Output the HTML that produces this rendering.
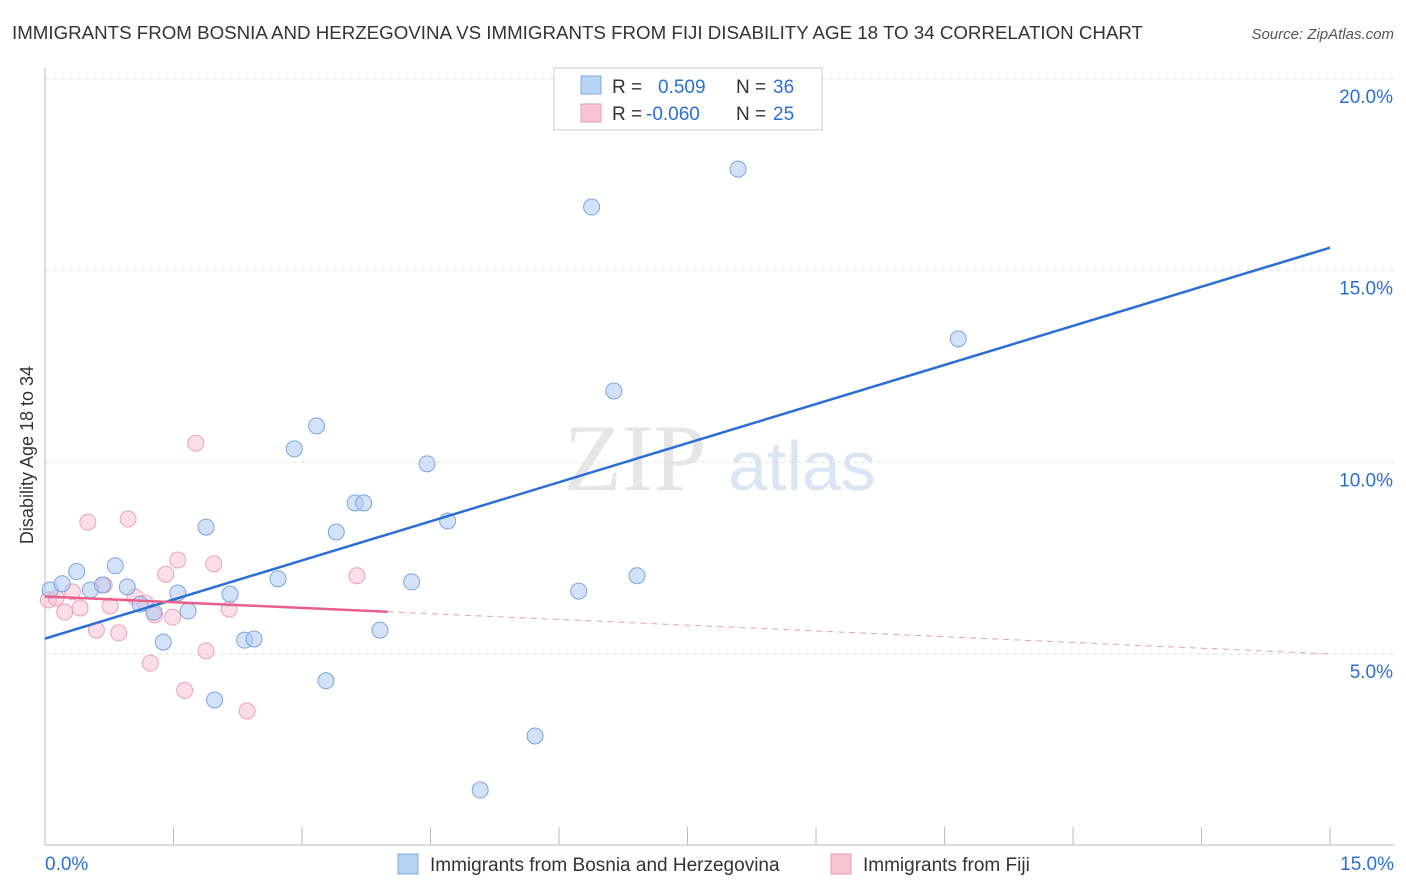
<!DOCTYPE html>
<html><head><meta charset="utf-8"><style>
body{margin:0;background:#fff;font-family:"Liberation Sans",sans-serif;}
svg{display:block}
</style></head><body>
<svg id="chart" width="1406" height="892">
<text x="12" y="39" font-size="18" fill="#333" textLength="1131" lengthAdjust="spacingAndGlyphs">IMMIGRANTS FROM BOSNIA AND HERZEGOVINA VS IMMIGRANTS FROM FIJI DISABILITY AGE 18 TO 34 CORRELATION CHART</text>
<text x="1394" y="39" font-size="15" fill="#555" font-style="italic" text-anchor="end">Source: ZipAtlas.com</text>
<text x="635" y="490" font-size="95" fill="#e6e6e6" font-family="Liberation Serif,serif" text-anchor="middle">ZIP</text>
<text x="802" y="490" font-size="70" fill="#dbe6f5" text-anchor="middle">atlas</text>
<text transform="translate(33,455) rotate(-90)" font-size="18" fill="#333" text-anchor="middle">Disability Age 18 to 34</text>
<g id="grid"></g><g id="marks"></g>
<g>
<rect x="554" y="68" width="268" height="62" fill="#fff" stroke="#ccc"/>
<rect x="581" y="76" width="20" height="18" fill="#b8d2f3" stroke="#7ea9e0"/>
<rect x="581" y="104" width="20" height="18" fill="#f9c5d5" stroke="#ec9ab3"/>
<text x="612" y="93" font-size="19" fill="#333">R = <tspan x="658" fill="#2b6fd6">0.509</tspan><tspan x="736" fill="#333">N = </tspan><tspan x="773" fill="#2b6fd6">36</tspan></text>
<text x="612" y="120" font-size="19" fill="#333">R = <tspan x="646" fill="#2b6fd6">-0.060</tspan><tspan x="736" fill="#333">N = </tspan><tspan x="773" fill="#2b6fd6">25</tspan></text>
</g>
<g>
<rect x="398" y="854" width="20" height="20" fill="#b8d2f3" stroke="#7ea9e0"/>
<text x="430" y="871" font-size="19" fill="#333">Immigrants from Bosnia and Herzegovina</text>
<rect x="831" y="854" width="20" height="20" fill="#f9c5d5" stroke="#ec9ab3"/>
<text x="863" y="871" font-size="19" fill="#333">Immigrants from Fiji</text>
</g>
</svg>
<script>
const xTicks=[0,1.5,3,4.5,6,7.5,9,10.5,12,13.5,15];
const yTicks=[5,10,15,20];
const bosniaX=[0.06,0.2,0.37,0.53,0.67,0.82,0.96,1.11,1.27,1.38,1.55,1.67,1.88,1.98,2.16,2.33,2.44,2.72,2.91,3.17,3.28,3.40,3.62,3.72,3.91,4.28,4.46,4.70,5.08,5.72,6.23,6.38,6.64,6.91,8.09,10.66];
const bosniaY=[6.67,6.83,7.15,6.67,6.80,7.30,6.75,6.30,6.09,5.31,6.59,6.12,8.31,3.80,6.56,5.36,5.39,6.96,10.35,10.95,4.30,8.18,8.94,8.94,5.62,6.88,9.96,8.47,1.45,2.86,6.64,16.66,11.86,7.04,17.65,13.22];
const fijiX=[0.04,0.13,0.23,0.32,0.41,0.50,0.60,0.69,0.76,0.86,0.97,1.05,1.17,1.23,1.28,1.41,1.49,1.55,1.63,1.76,1.88,1.97,2.15,2.36,3.64];
const fijiY=[6.41,6.46,6.09,6.62,6.20,8.44,5.62,6.80,6.25,5.55,8.52,6.49,6.33,4.76,6.02,7.08,5.96,7.45,4.05,10.50,5.08,7.35,6.17,3.51,7.04];
const bosniaFit=[0,5.4,15,15.6];
const fijiFit=[0,6.5,15,5.0];
const solidEnd=4.0;
const X=v=>45+v*85.67, Y=v=>845.6-v*38.33;
const NS="http://www.w3.org/2000/svg";
function mk(t,a,p){const e=document.createElementNS(NS,t);for(const k in a)e.setAttribute(k,a[k]);p.appendChild(e);return e;}
const g=document.getElementById('grid'), m=document.getElementById('marks');
yTicks.forEach(v=>{
 const l=mk('line',{x1:45,x2:1394,y1:Y(v),y2:Y(v),stroke:'#ddd','stroke-dasharray':'4,4'},g);
 
 
 const t=mk('text',{x:1393,y:Y(v)+24,'font-size':19,fill:'#2b6fd6','text-anchor':'end'},g);t.textContent=v.toFixed(1)+'%';
 
 
});
mk('line',{x1:45,x2:45,y1:68,y2:845,stroke:'#bbb'},g);
mk('line',{x1:45,x2:1394,y1:845,y2:845,stroke:'#bbb'},g);
xTicks.forEach(v=>{const l=mk('line',{x1:X(v),x2:X(v),y1:827,y2:845,stroke:'#bbb'},g);
 
 });
[[0,'start',45],[15,'end',1394]].forEach(([v,a,x])=>{const t=mk('text',{x:x,y:870,'font-size':19,fill:'#2b6fd6','text-anchor':a},g);t.textContent=v.toFixed(1)+'%';
 
 });
fijiX.forEach((x,i)=>{const c=mk('circle',{cx:X(x),cy:Y(fijiY[i]),r:8,fill:'rgba(248,190,208,0.5)',stroke:'#eda1b9','stroke-width':1},m);
 
 });
bosniaX.forEach((x,i)=>{const c=mk('circle',{cx:X(x),cy:Y(bosniaY[i]),r:8,fill:'rgba(175,203,242,0.55)',stroke:'#7aa6df','stroke-width':1},m);
 
 });
const bl=mk('line',{x1:X(bosniaFit[0]),y1:Y(bosniaFit[1]),x2:X(bosniaFit[2]),y2:Y(bosniaFit[3]),stroke:'#2b6fd6','stroke-width':2.5},m);


const fy=x=>fijiFit[1]+(fijiFit[3]-fijiFit[1])*(x-fijiFit[0])/(fijiFit[2]-fijiFit[0]);
const fl=mk('line',{x1:X(0),y1:Y(fy(0)),x2:X(solidEnd),y2:Y(fy(solidEnd)),stroke:'#e8608a','stroke-width':2.5},m);


const fd=mk('line',{x1:X(solidEnd),y1:Y(fy(solidEnd)),x2:X(15),y2:Y(fy(15)),stroke:'#e8a0b6','stroke-width':1,'stroke-dasharray':'6,5'},m);


</script>
</body></html>
